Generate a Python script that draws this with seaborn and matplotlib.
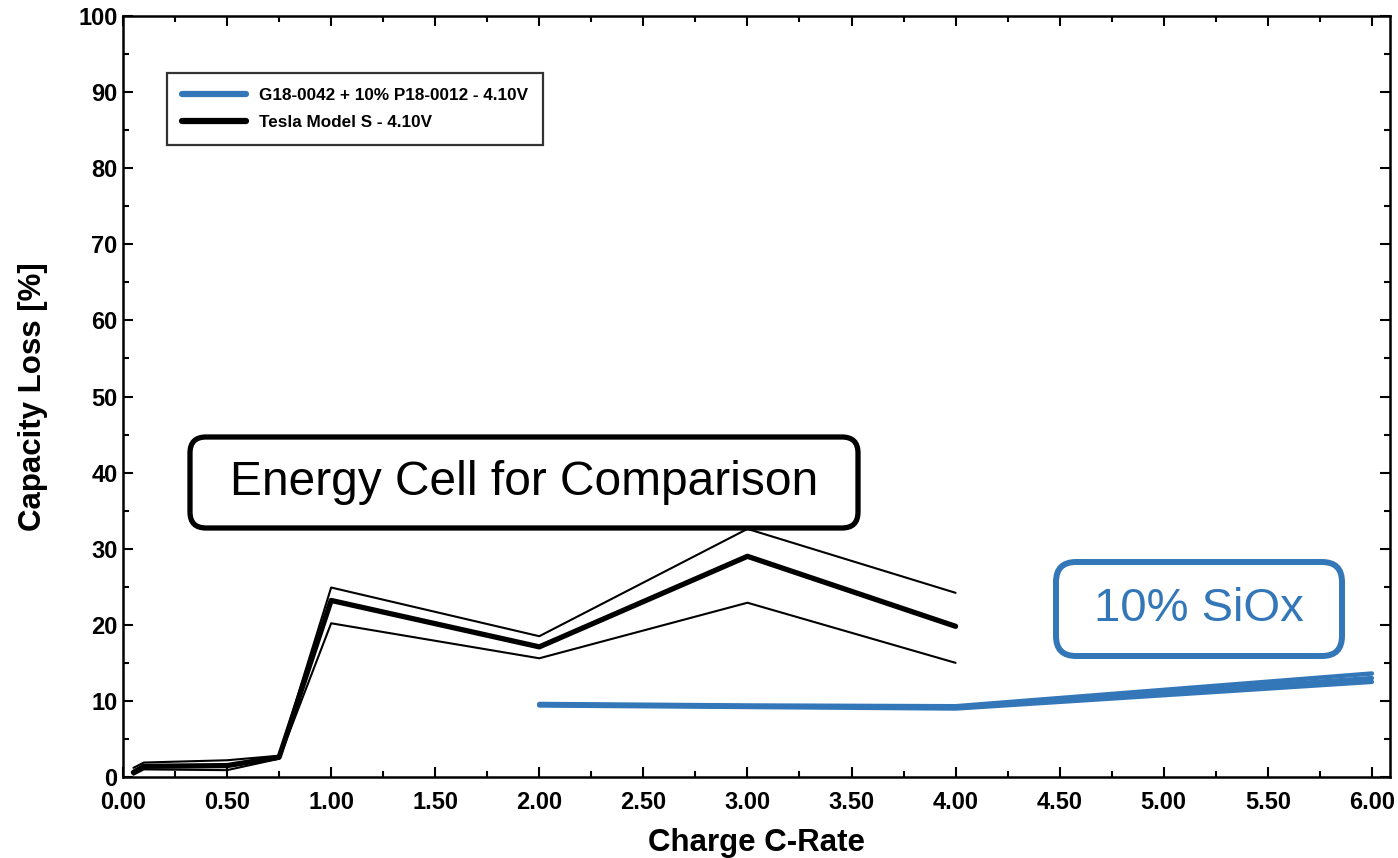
import matplotlib
matplotlib.use("Agg")
import matplotlib.pyplot as plt
from matplotlib import font_manager
from matplotlib.lines import Line2D
from matplotlib.patches import FancyBboxPatch
from matplotlib.ticker import MultipleLocator, FormatStrFormatter
import numpy as np
import pandas as pd
import seaborn as sns

# Charge rates and capacity loss (%) for the Tesla Model S reference cells
tesla_rate = [0.05, 0.10, 0.50, 0.75, 1.00, 2.00, 3.00, 4.00]
tesla_mean = [0.6, 1.4, 1.5, 2.6, 23.2, 17.1, 29.0, 19.8]
tesla_upper = [1.2, 1.9, 2.2, 2.8, 24.9, 18.5, 32.6, 24.2]
tesla_lower = [0.3, 1.0, 0.9, 2.4, 20.2, 15.6, 22.9, 15.0]

# Charge rates and capacity loss (%) for the 10% SiOx cells
siox_rate = [2.00, 3.00, 4.00, 6.00]
siox_cell_a = [9.6, 9.4, 9.3, 13.6]
siox_cell_b = [9.5, 9.3, 9.2, 13.0]
siox_cell_c = [9.4, 9.2, 9.0, 12.5]

legend_labels = ["G18-0042 + 10% P18-0012 - 4.10V", "Tesla Model S - 4.10V"]
note_energy = "Energy Cell for Comparison"
note_siox = "10% SiOx"

BLUE = "#3377B8"

sns.set_theme(style="ticks")
installed = {f.name for f in font_manager.fontManager.ttflist}
base_font = "Liberation Sans" if "Liberation Sans" in installed else "DejaVu Sans"
plt.rcParams["font.family"] = [base_font, "DejaVu Sans"]
plt.rcParams["text.color"] = "black"
plt.rcParams["axes.labelcolor"] = "black"
plt.rcParams["xtick.color"] = "black"
plt.rcParams["ytick.color"] = "black"

W, H = 1398, 858
fig = plt.figure(figsize=(W / 100, H / 100), dpi=100)
ax = fig.add_axes([123 / W, 1 - 777 / H, (1390 - 123) / W, (777 - 16) / H])

tesla = pd.DataFrame({"rate": tesla_rate, "mean": tesla_mean,
                      "upper": tesla_upper, "lower": tesla_lower})
siox = pd.DataFrame({"rate": siox_rate, "a": siox_cell_a,
                     "b": siox_cell_b, "c": siox_cell_c})

for col in ["upper", "lower"]:
    sns.lineplot(data=tesla, x="rate", y=col, ax=ax, color="black", lw=1.5,
                 estimator=None, sort=False)
sns.lineplot(data=tesla, x="rate", y="mean", ax=ax, color="black", lw=3.8,
             estimator=None, sort=False)
for col in ["a", "b", "c"]:
    sns.lineplot(data=siox, x="rate", y=col, ax=ax, color=BLUE, lw=3.2,
                 estimator=None, sort=False)

ax.set_xlim(0, 6.087)
ax.set_ylim(0, 100)
ax.xaxis.set_major_locator(MultipleLocator(0.5))
ax.xaxis.set_minor_locator(MultipleLocator(0.25))
ax.yaxis.set_major_locator(MultipleLocator(10))
ax.yaxis.set_minor_locator(MultipleLocator(5))
ax.xaxis.set_major_formatter(FormatStrFormatter("%.2f"))
ax.yaxis.set_major_formatter(FormatStrFormatter("%d"))

for s in ax.spines.values():
    s.set_visible(True)
    s.set_linewidth(1.8)
    s.set_color("black")
ax.tick_params(which="both", direction="in", top=True, right=True,
               color="black", width=1.5)
ax.tick_params(which="major", length=7.5, labelsize=17)
ax.tick_params(axis="x", which="major", pad=10)
ax.tick_params(axis="y", which="major", pad=4)
ax.tick_params(which="minor", length=4.5)
for lab in ax.get_xticklabels() + ax.get_yticklabels():
    lab.set_fontweight("bold")

ax.set_xlabel("Charge C-Rate", fontsize=22.5, fontweight="bold", labelpad=10)
ax.set_ylabel("Capacity Loss [%]", fontsize=22.5, fontweight="bold", labelpad=22)

handles = [Line2D([], [], color=BLUE, lw=4.5, solid_capstyle="round"),
           Line2D([], [], color="black", lw=4.5, solid_capstyle="round")]
leg = ax.legend(handles, legend_labels, loc="upper left",
                bbox_to_anchor=(167 / W, 1 - 73 / H),
                bbox_transform=fig.transFigure, borderaxespad=0,
                fancybox=False, frameon=True, edgecolor="black",
                prop={"weight": "bold", "size": 12.3}, handlelength=3.75,
                handletextpad=0.75, labelspacing=0.72, borderpad=0.88)
leg.get_frame().set_linewidth(1.6)

def rounded_note(x0, y0, x1, y1, radius, color, lw, text, size):
    box = FancyBboxPatch((x0 / W, 1 - y1 / H), (x1 - x0) / W, (y1 - y0) / H,
                         boxstyle=f"round,pad=0,rounding_size={radius / W}",
                         mutation_aspect=W / H, transform=fig.transFigure,
                         facecolor="white", edgecolor=color, lw=lw, zorder=5)
    fig.patches.append(box)
    fig.text((x0 + x1) / 2 / W, 1 - (y0 + y1) / 2 / H, text, color=color,
             fontsize=size, ha="center", va="center", zorder=6)

rounded_note(190, 437, 858, 528, 16, "black", 3.8, note_energy, 34.5)
rounded_note(1056, 562, 1342, 656, 20, BLUE, 4.3, note_siox, 34)

fig.savefig("out.png", dpi=100, facecolor="white")
